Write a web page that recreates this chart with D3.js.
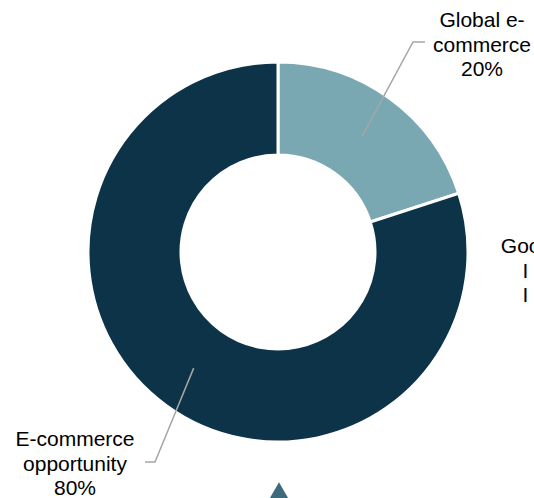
<!DOCTYPE html>
<html>
<head>
<meta charset="utf-8">
<script src="https://cdn.jsdelivr.net/npm/d3@7"></script>
<style>
  html, body { margin: 0; padding: 0; background: #ffffff; overflow: hidden; }
  svg { display: block; }
  text { font-family: "Liberation Sans", Arial, sans-serif; fill: #000000; }
</style>
</head>
<body>
<svg id="chart" width="534" height="498"></svg>
<script>
// Market share split
const categories = ["Global e-commerce", "E-commerce opportunity"];
const shares = [20, 80];
const labelLines = [["Global e-", "commerce"], ["E-commerce", "opportunity"]];
const sideNoteLines = ["Goods e-", "I & II", "I & II"];

const colors = ["#79a8b3", "#0d3349"];

const width = 534, height = 498;
const cx = 278, cy = 252;
const outerR = 190, innerR = 97;
const fontSize = 21, lineH = 24.5;

const svg = d3.select("#chart");
const g = svg.append("g").attr("transform", `translate(${cx},${cy})`);

const pie = d3.pie().sort(null).value(d => d.value);
const arcs = pie(categories.map((c, i) => ({ name: c, value: shares[i], lines: labelLines[i] })));

const arc = d3.arc().innerRadius(innerR).outerRadius(outerR);
const midArc = d3.arc().innerRadius((innerR + outerR) / 2).outerRadius((innerR + outerR) / 2);

g.selectAll("path.slice")
  .data(arcs)
  .join("path")
  .attr("class", "slice")
  .attr("d", arc)
  .attr("fill", (d, i) => colors[i])
  .attr("stroke", "#ffffff")
  .attr("stroke-width", 3)
  .attr("stroke-linejoin", "miter");

// Leader lines: slice centroid -> elbow -> short horizontal run
const leaders = [
  { elbow: [135, -210], end: [147, -210], text: [204, -225] },
  { elbow: [-123, 210], end: [-133, 210], text: [-203, 194] }
];

g.selectAll("polyline.leader")
  .data(arcs)
  .join("polyline")
  .attr("class", "leader")
  .attr("points", (d, i) => {
    const c = midArc.centroid(d);
    return [c, leaders[i].elbow, leaders[i].end].map(p => p.join(",")).join(" ");
  })
  .attr("fill", "none")
  .attr("stroke", "#a6a6a6")
  .attr("stroke-width", 1.5);

const labels = g.selectAll("text.label")
  .data(arcs)
  .join("text")
  .attr("class", "label")
  .attr("text-anchor", "middle")
  .attr("font-size", fontSize)
  .attr("x", (d, i) => leaders[i].text[0])
  .attr("y", (d, i) => leaders[i].text[1]);

labels.each(function (d, i) {
  const t = d3.select(this);
  const lines = d.data.lines.concat([d3.format(".0f")(d.value) + "%"]);
  lines.forEach((line, k) => {
    t.append("tspan")
      .attr("x", leaders[i].text[0])
      .attr("y", leaders[i].text[1] + k * lineH)
      .text(line);
  });
});

// Adjacent note running off the right edge
const note = g.append("text")
  .attr("text-anchor", "middle")
  .attr("font-size", fontSize)
  .style("white-space", "pre");
sideNoteLines.forEach((line, k) => {
  note.append("tspan")
    .attr("x", 266)
    .attr("y", 1 + k * lineH)
    .text(line);
});

// Pointer marker below the ring
const tri = d3.symbol().type(d3.symbolTriangle).size(150);
g.append("path")
  .attr("d", tri())
  .attr("transform", `translate(1, ${outerR + 51})`)
  .attr("fill", "#3d6b7b");
</script>
</body>
</html>
